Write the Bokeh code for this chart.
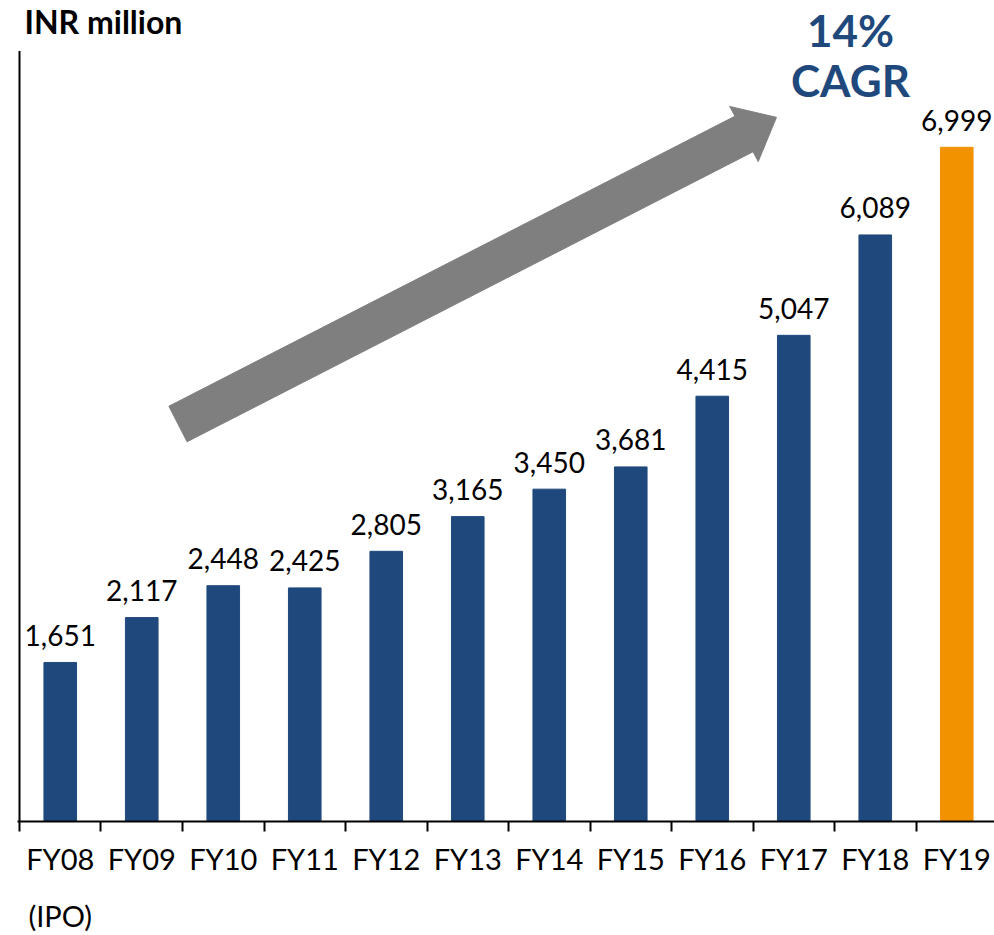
from bokeh.plotting import figure
from bokeh.models import FixedTicker, Range1d, ColumnDataSource
from bokeh.core.properties import value
from bokeh.embed import file_html
from bokeh.resources import INLINE

# ---- data ----
categories = ["FY08", "FY09", "FY10", "FY11", "FY12", "FY13", "FY14",
              "FY15", "FY16", "FY17", "FY18", "FY19"]
revenue = [1651, 2117, 2448, 2425, 2805, 3165, 3450, 3681, 4415, 5047, 6089, 6999]
bar_colors = ["#1F497D"] * 11 + ["#F39200"]
sub_label = "(IPO)"
unit_label = "INR million"
cagr_pct = "14%"
cagr_word = "CAGR"

centers = [i + 0.5 for i in range(len(categories))]
value_labels = [f"{v:,}" for v in revenue]
tick_labels = [categories[0] + "\n" + sub_label] + categories[1:]

FONT = "Lato"

p = figure(width=994, height=935, output_backend="svg", toolbar_location=None,
           x_range=Range1d(-0.0245, 11.963), y_range=Range1d(0, 8523),
           y_axis_location=None,
           min_border_left=17, min_border_right=0, min_border_top=0,
           min_border_bottom=113)
p.grid.visible = False
p.outline_line_color = None
p.background_fill_color = "white"
p.border_fill_color = "white"

# arrow (decoration), in data units
arrow_x = [1.833, 8.778, 8.715, 9.288, 9.064, 9.001, 2.056]
arrow_y = [4311, 7322, 7423, 7310, 6851, 6953, 3942]
p.patch(arrow_x, arrow_y, fill_color="#7F7F7F", line_color="#7F7F7F")

# bars
src = ColumnDataSource(dict(x=centers, top=revenue, color=bar_colors, lab=value_labels))
p.vbar(x="x", top="top", width=0.40, color="color", source=src)

# value labels
p.text(x="x", y="top", text="lab", source=src, text_align="center",
       text_baseline="alphabetic", y_offset=-27, text_font=value(FONT),
       text_font_size="28px", text_color="black")

# vertical axis line
p.segment(x0=[0], y0=[0], x1=[0], y1=[8000], line_color="black", line_width=2)

# unit label and CAGR
p.text(x=[0.061], y=[8306], text=[unit_label], text_align="left",
       text_baseline="alphabetic", text_font=value(FONT), text_font_style="bold",
       text_font_size="32px", text_color="black")
p.text(x=[10.196], y=[8213], text=[cagr_pct], text_align="center",
       text_baseline="alphabetic", text_font=value(FONT), text_font_style="bold",
       text_font_size="44px", text_color="#1F497D")
p.text(x=[10.196], y=[7694], text=[cagr_word], text_align="center",
       text_baseline="alphabetic", text_font=value(FONT), text_font_style="bold",
       text_font_size="44px", text_color="#1F497D")

# x axis
ax = p.xaxis[0]
ax.ticker = FixedTicker(ticks=centers, minor_ticks=list(range(len(categories) + 1)))
ax.major_label_overrides = {c: lab for c, lab in zip(centers, tick_labels)}
ax.axis_line_color = "black"
ax.axis_line_width = 2
ax.major_tick_line_color = None
ax.major_tick_out = 10
ax.major_tick_in = 0
ax.minor_tick_line_color = "black"
ax.minor_tick_line_width = 2
ax.minor_tick_out = 10
ax.minor_tick_in = 0
ax.major_label_standoff = 9
ax.major_label_text_font = FONT
ax.major_label_text_font_size = "29px"
ax.major_label_text_line_height = 1.64
ax.major_label_text_color = "black"

open("out.html", "w").write(file_html(p, INLINE))
